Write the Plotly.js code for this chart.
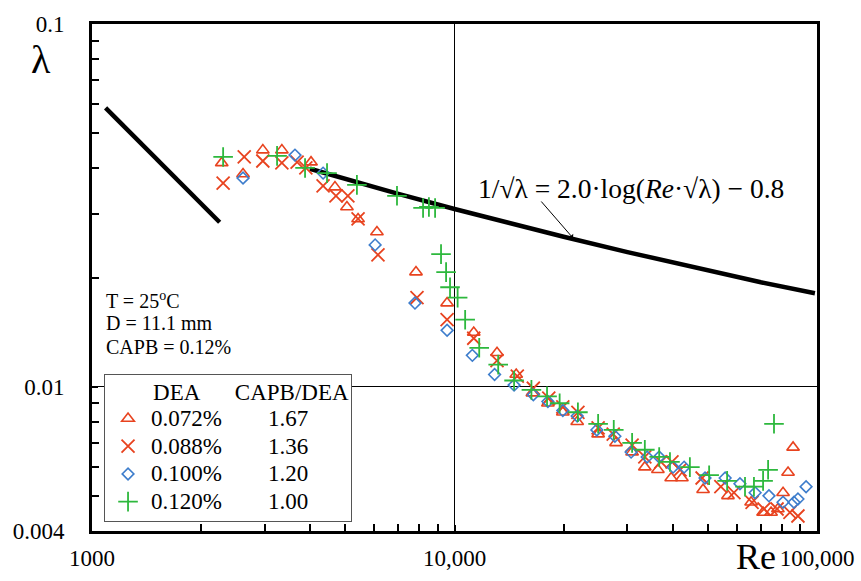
<!DOCTYPE html>
<html><head><meta charset="utf-8">
<script src="https://cdn.plot.ly/plotly-3.0.1.min.js"></script>
<style>html,body{margin:0;padding:0;background:#fff}#chart{width:861px;height:581px}</style>
</head><body><div id="chart"></div><script>
// Series: DEA 0.072% (triangles)
const re_072 = [2280, 2610, 2960, 3340, 4020, 4680, 5050, 5420, 6110, 7830, 9540, 11300, 13100, 14800, 16400, 18100, 19900, 21800, 24900, 27900, 30900, 33500, 36400, 39600, 42400, 48500, 56800, 65800, 71000, 74700, 78000, 80600, 83200, 85900];
const lam_072 = [0.0414, 0.0386, 0.0449, 0.0449, 0.0416, 0.0355, 0.0313, 0.0290, 0.0267, 0.0207, 0.0170, 0.0141, 0.0124, 0.0108, 0.0096, 0.0090, 0.0085, 0.0080, 0.0074, 0.0070, 0.0066, 0.0060, 0.0059, 0.0056, 0.0056, 0.0052, 0.0050, 0.0048, 0.0045, 0.0045, 0.0046, 0.0051, 0.0058, 0.0068];
// DEA 0.088% (crosses)
const re_088 = [2300, 2630, 2960, 3340, 3680, 3890, 4340, 4710, 5080, 5420, 6150, 7880, 9540, 11300, 13100, 14900, 16500, 18200, 19900, 21900, 24900, 27400, 30900, 33500, 37100, 39800, 41900, 48200, 54300, 59000, 66200, 71400, 77600, 84200, 88600];
const lam_088 = [0.0364, 0.0430, 0.0419, 0.0414, 0.0416, 0.0401, 0.0358, 0.0336, 0.0336, 0.0290, 0.0231, 0.0176, 0.0153, 0.0136, 0.0118, 0.0107, 0.0099, 0.0093, 0.0088, 0.0085, 0.0077, 0.0074, 0.0069, 0.0064, 0.0062, 0.0062, 0.0059, 0.0056, 0.0053, 0.0051, 0.0048, 0.0046, 0.0046, 0.0045, 0.0044];
// DEA 0.100% (diamonds)
const re_100 = [2610, 3630, 4340, 6040, 7780, 9540, 11200, 12900, 14600, 16500, 18100, 19900, 21800, 24700, 27700, 30700, 34000, 36700, 40100, 43000, 49100, 55800, 61300, 67500, 73700, 80600, 86400, 88600, 93300];
const lam_100 = [0.0376, 0.0435, 0.0388, 0.0246, 0.0170, 0.0143, 0.0122, 0.0108, 0.0101, 0.0095, 0.0091, 0.0086, 0.0083, 0.0076, 0.0073, 0.0066, 0.0064, 0.0064, 0.0060, 0.0060, 0.0056, 0.0056, 0.0054, 0.0051, 0.0050, 0.0048, 0.0048, 0.0049, 0.0053];
// DEA 0.120% (plus)
const re_120 = [2300, 3240, 3870, 4450, 5380, 6940, 8190, 8500, 8840, 9180, 9480, 9720, 10200, 10700, 11700, 13200, 14600, 16300, 18000, 19500, 21900, 24900, 27500, 30900, 33500, 36700, 39300, 44600, 50400, 56500, 63300, 67000, 71000, 73300, 76100];
const lam_120 = [0.0430, 0.0433, 0.0401, 0.0388, 0.0360, 0.0336, 0.0311, 0.0313, 0.0311, 0.0232, 0.0207, 0.0188, 0.0176, 0.0153, 0.0128, 0.0115, 0.0104, 0.0098, 0.0094, 0.0090, 0.0085, 0.0079, 0.0076, 0.0070, 0.0067, 0.0064, 0.0062, 0.0060, 0.0057, 0.0055, 0.0053, 0.0053, 0.0055, 0.0059, 0.0079];
// Reference lines
const re_lam = [1090, 2250];
const lam_lam = [0.0587, 0.0284];
const re_turb = [3990, 5000, 7000, 10000, 15000, 20000, 30000, 50000, 70000, 98700];
const lam_turb = [0.0399, 0.0374, 0.0340, 0.0309, 0.0278, 0.0259, 0.0235, 0.0209, 0.0194, 0.0181];

const dea_labels = ['0.072%', '0.088%', '0.100%', '0.120%'];
const ratio_labels = ['1.67', '1.36', '1.20', '1.00'];
const x_tickvals = [1000, 10000, 100000];
const x_ticktext = ['1000', '10,000', '100,000'];
const x_minor = [2000, 3000, 4000, 5000, 6000, 7000, 8000, 9000, 20000, 30000, 40000, 50000, 60000, 70000, 80000, 90000];
const y_tickvals = [0.004, 0.01, 0.1];
const y_ticktext = ['0.004', '0.01', '0.1'];
const y_minor = [0.005, 0.006, 0.007, 0.008, 0.009, 0.02, 0.03, 0.04, 0.05, 0.06, 0.07, 0.08, 0.09];

const NB = '\u00a0';
const FONT = 'Liberation Serif, Times New Roman, serif';
const RED = '#e8431f', BLUE = '#3d7dcc', GREEN = '#2db83d';
const big = s => '<span style="font-size:23px">' + s + '</span>';
const nm = i => big(dea_labels[i] + NB.repeat(8) + ratio_labels[i]);

const traces = [
  {x: re_lam, y: lam_lam, mode: 'lines', line: {color: '#000', width: 4.5}, showlegend: false, hoverinfo: 'skip'},
  {x: re_turb, y: lam_turb, mode: 'lines', line: {color: '#000', width: 4.5}, showlegend: false, hoverinfo: 'skip'},
  {x: re_072, y: lam_072, mode: 'markers', name: nm(0),
   marker: {symbol: 'triangle-up-open', size: 11, color: RED, line: {width: 1.6, color: RED}}},
  {x: re_088, y: lam_088, mode: 'markers', name: nm(1),
   marker: {symbol: 'x-thin-open', size: 13, color: RED, line: {width: 1.8, color: RED}}},
  {x: re_100, y: lam_100, mode: 'markers', name: nm(2),
   marker: {symbol: 'diamond-open', size: 9, color: BLUE, line: {width: 1.6, color: BLUE}}},
  {x: re_120, y: lam_120, mode: 'markers', name: nm(3),
   marker: {symbol: 'cross-thin-open', size: 14, color: GREEN, line: {width: 1.8, color: GREEN}}}
];

const axisCommon = {
  type: 'log', showline: true, mirror: true, linecolor: '#000', linewidth: 3,
  showgrid: true, gridcolor: '#000', gridwidth: 1.5, zeroline: false,
  tickmode: 'array', ticks: 'inside', ticklen: 6, tickwidth: 2, tickcolor: '#000',
  tickfont: {family: FONT, size: 23, color: '#000'}
};

const layout = {
  width: 861, height: 581,
  margin: {l: 92, r: 44, t: 24, b: 50},
  paper_bgcolor: '#fff', plot_bgcolor: '#fff',
  font: {family: FONT, color: '#000'},
  xaxis: Object.assign({}, axisCommon, {
    range: [3, 5], tickvals: x_tickvals, ticktext: x_ticktext, ticklabelstandoff: 4,
    minor: {tickmode: 'array', tickvals: x_minor, ticks: 'inside', ticklen: 7, tickwidth: 2, tickcolor: '#000', showgrid: false}
  }),
  yaxis: Object.assign({}, axisCommon, {
    range: [Math.log10(0.004), -1], tickvals: y_tickvals, ticktext: y_ticktext, ticklabelstandoff: 20,
    minor: {tickmode: 'array', tickvals: y_minor, ticks: 'inside', ticklen: 7, tickwidth: 2, tickcolor: '#000', showgrid: false}
  }),
  legend: {
    x: 0.0166, y: 0.3097, xanchor: 'left', yanchor: 'top',
    bgcolor: '#fff', bordercolor: '#555', borderwidth: 1,
    font: {family: FONT, size: 19, color: '#000'},
    itemwidth: 36,
    title: {text: big(NB.repeat(8) + 'DEA' + NB.repeat(6) + 'CAPB/DEA'), font: {family: FONT, size: 19, color: '#000'}}
  },
  showlegend: true,
  annotations: [
    {xref: 'paper', yref: 'paper', x: -0.07, y: 0.93, text: 'λ', showarrow: false,
     font: {family: FONT, size: 40, color: '#000'}, xanchor: 'center', yanchor: 'middle'},
    {xref: 'paper', yref: 'paper', x: 0.916, y: -0.052, text: 'Re', showarrow: false,
     font: {family: FONT, size: 36, color: '#000'}, xanchor: 'center', yanchor: 'middle'},
    {xref: 'paper', yref: 'paper', x: 0.016, y: 0.456, text: 'T = 25<sup>o</sup>C', showarrow: false,
     font: {family: FONT, size: 20, color: '#000'}, xanchor: 'left', yanchor: 'middle'},
    {xref: 'paper', yref: 'paper', x: 0.016, y: 0.410, text: 'D = 11.1 mm', showarrow: false,
     font: {family: FONT, size: 20, color: '#000'}, xanchor: 'left', yanchor: 'middle'},
    {xref: 'paper', yref: 'paper', x: 0.016, y: 0.363, text: 'CAPB = 0.12%', showarrow: false,
     font: {family: FONT, size: 20, color: '#000'}, xanchor: 'left', yanchor: 'middle'},
    {xref: 'paper', yref: 'paper', x: 0.743, y: 0.676, text: '1/√λ = 2.0·log(<i>Re</i>·√λ) − 0.8', showarrow: false,
     font: {family: FONT, size: 27.5, color: '#000'}, xanchor: 'center', yanchor: 'middle'},
    {xref: 'paper', yref: 'paper', x: 0.6634, y: 0.5779, text: '', showarrow: true,
     ax: -33, ay: -38, arrowhead: 1, arrowsize: 1, arrowwidth: 1, arrowcolor: '#000'}
  ]
};

Plotly.newPlot('chart', traces, layout, {displayModeBar: false, staticPlot: true});
</script></body></html>
